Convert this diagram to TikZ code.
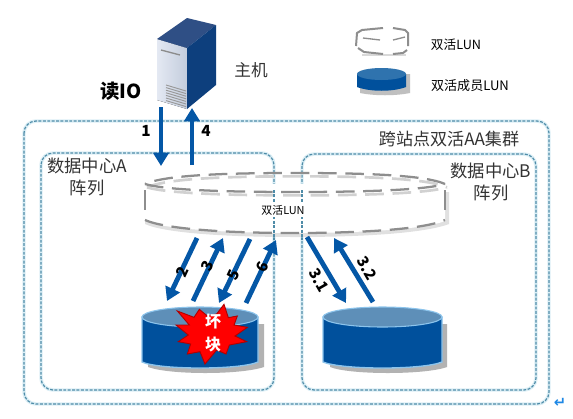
\documentclass[tikz,border=0pt]{standalone}
\usepackage{fontspec}
\setmainfont{Noto Sans CJK SC}
\newfontfamily\arrowfont{DejaVu Sans}
\usetikzlibrary{arrows.meta}
\definecolor{lunblue}{HTML}{00509C}
\definecolor{luntop}{HTML}{5E8FB8}
\definecolor{rimblue}{HTML}{8CC4EC}
\definecolor{flowblue}{HTML}{0457A6}
\definecolor{zone}{HTML}{4F8CA8}
\definecolor{zoneglow}{HTML}{DCEFF6}
\definecolor{dashgray}{HTML}{8E8E8E}
\definecolor{txt}{HTML}{333333}
\definecolor{srvfrontl}{HTML}{E4E9F3}
\definecolor{srvfrontr}{HTML}{C3CCDC}
\definecolor{srvtop}{HTML}{2F4F85}
\definecolor{srvside}{HTML}{0D3F7D}
\definecolor{legtop}{HTML}{2F73AE}
\definecolor{retblue}{HTML}{1E88E5}
\tikzset{
  zonebox/.style={draw=zone,line width=.9pt,dash pattern=on 2.2pt off 1.1pt,rounded corners=9pt},
  zoneunder/.style={draw=zoneglow,line width=2.6pt,rounded corners=9pt},
  flow/.style={draw=flowblue,line width=3.6pt,-{Triangle[length=10pt,width=11.5pt]}},
  lbl/.style={text=txt,align=center,inner sep=0pt},
  num/.style={text=black,font=\bfseries\fontsize{11.5pt}{13pt}\selectfont,inner sep=0pt},
  dashrim/.style={draw=dashgray,line width=1.7pt,dash pattern=on 14pt off 6.5pt},
  dashshadow/.style={draw=black!18,line width=2pt,dash pattern=on 14pt off 6.5pt},
}
\begin{document}
\begin{tikzpicture}[x=.75pt,y=-.75pt]
\useasboundingbox[fill=white] (0,0) rectangle (573,418);

% zones
\draw[zoneunder] (24,121) rectangle (549,404);
\draw[zoneunder] (41,153) rectangle (274,390);
\draw[zoneunder] (302,154) rectangle (536,390);
\draw[zonebox] (24,121) rectangle (549,404);
\draw[zonebox] (41,153) rectangle (274,390);
\draw[zonebox] (302,154) rectangle (536,390);

% server
\fill[left color=srvfrontl,right color=srvfrontr] (157,39) -- (187,48) -- (187,109) -- (157,100) -- cycle;
\fill[srvtop] (157,39) -- (187,48) -- (216,25) -- (187,18) -- cycle;
\fill[srvside] (187,48) -- (216,25) -- (216,85) -- (187,109) -- cycle;
\draw[black!45,line width=1pt] (161,50) -- (180,55);
\foreach \k in {0,...,6}{\draw[black!40,line width=.7pt] (166,{85+\k*2.6}) -- (186,{91+\k*2.6});}

% big dual-active LUN
\fill[black!12] (145,192) -- (145,224) .. controls (165,233) and (225,237) .. (295,237) .. controls (365,237) and (425,233) .. (449,224) -- (449,192) -- cycle;
\fill[white] (145,184) -- (145,221) .. controls (165,229) and (225,233) .. (295,233) .. controls (365,233) and (425,229) .. (445,221) -- (445,184) -- cycle;
\begin{scope}[yshift=-2.5pt,xshift=1.5pt]
\draw[dashshadow] (145,184) .. controls (165,175) and (225,173) .. (295,173) .. controls (365,173) and (425,175) .. (445,184);
\draw[dashshadow] (145,184) .. controls (165,190) and (225,192) .. (295,192) .. controls (365,192) and (425,190) .. (445,184);
\end{scope}
\draw[dashrim] (445,184) .. controls (425,175) and (365,173) .. (295,173) .. controls (225,173) and (165,175) .. (145,184);
\draw[dashrim] (145,184) .. controls (165,190) and (225,192) .. (295,192) .. controls (365,192) and (425,190) .. (445,184);
\draw[dashgray,line width=1.7pt] (145,190) -- (145,210);
\draw[dashgray,line width=1.7pt] (445,190) -- (445,210);
\draw[dashrim] (145,220) .. controls (165,229) and (225,233) .. (295,233) .. controls (365,233) and (425,229) .. (445,220);
\draw[zone,line width=.9pt,dash pattern=on 2.2pt off 1.1pt] (274,190) -- (274,240);
\draw[zone,line width=.9pt,dash pattern=on 2.2pt off 1.1pt] (302,190) -- (302,240);
\node[fill=white,inner sep=1.5pt,text=black,font=\fontsize{8.2pt}{10pt}\selectfont] (biglun) at (283,210) {双活LUN};

% member cylinders
\fill[black!30] (148,324) -- (264,324) -- (264,367) .. controls (240,375) and (170,375) .. (148,367) -- cycle;
\draw[rimblue,line width=1pt,fill=lunblue] (142,317) -- (142,362) .. controls (160,370) and (240,370) .. (258,362) -- (258,317) -- cycle;
\draw[rimblue,line width=.8pt,fill=luntop] (200,317) ellipse [x radius=58,y radius=10];
\fill[black!30] (330,324) -- (447,324) -- (447,367) .. controls (425,375) and (350,375) .. (330,367) -- cycle;
\draw[rimblue,line width=1pt,fill=lunblue] (323,317) -- (323,362) .. controls (342,370) and (423,370) .. (442,362) -- (442,317) -- cycle;
\draw[rimblue,line width=.8pt,fill=luntop] (382.5,317) ellipse [x radius=59.5,y radius=10];

% burst
\begin{scope}[shift={(100,210)},x=.25pt,y=-.25pt]
\fill[red,draw=red!70!black,line width=.7pt]
 (372,283) -- (385,323) -- (412,318) -- (402,345) -- (442,352) -- (405,378) -- (440,395) -- (388,405) -- (378,432) -- (350,420) -- (315,462) -- (300,425) -- (262,432) -- (272,402) -- (235,395) -- (265,375) -- (228,345) -- (268,345) -- (232,303) -- (282,322) -- (298,298) -- (322,318) -- (350,312) -- cycle;
\end{scope}
\node[text=white,font=\bfseries\fontsize{12pt}{14pt}\selectfont,inner sep=0pt] (bad1) at (213,322) {坏};
\node[text=white,font=\bfseries\fontsize{12pt}{14pt}\selectfont,inner sep=0pt] (bad2) at (213,345) {块};

% legend
\draw[black!15,line width=2pt] (362,55) -- (406,55);
\draw[dashgray,line width=1.5pt] (383,28) -- (362,30) -- (357,33) -- (356,46);
\draw[dashgray,line width=1.5pt] (393,28) -- (405,30) -- (408,33) -- (408,46);
\draw[dashgray,line width=1.5pt] (358,48) -- (364,52) -- (383,54);
\draw[dashgray,line width=1.5pt] (393,54) -- (403,53) -- (407,50);
\draw[dashgray,line width=1pt] (363,38) -- (380,40);
\draw[dashgray,line width=1pt] (393,40) -- (405,37);
\fill[black!25] (360,74) -- (410,74) -- (410,93) .. controls (395,96) and (375,96) .. (360,93) -- cycle;
\fill[lunblue] (357,74) -- (357,87) .. controls (370,92) and (393,92) .. (406,87) -- (406,74) -- cycle;
\fill[legtop] (381.5,74) ellipse [x radius=24.5,y radius=6];
\node[lbl,text=black,font=\fontsize{9.5pt}{11pt}\selectfont] (lg1) at (456,45) {双活LUN};
\node[lbl,text=black,font=\fontsize{9.8pt}{11pt}\selectfont] (lg2) at (470,86) {双活成员LUN};

% labels
\node[lbl,font=\fontsize{12.5pt}{14pt}\selectfont] (hostl) at (251,70) {主机};
\node[text=black,font=\bfseries\fontsize{14.5pt}{16pt}\selectfont,inner sep=0pt] (readio) at (121,91) {读IO};
\node[lbl,font=\fontsize{12.8pt}{14pt}\selectfont] (title) at (449,139) {跨站点双活AA集群};
\node[lbl,font=\fontsize{13pt}{16pt}\selectfont] (dca) at (87,177) {数据中心A\\阵列};
\node[lbl,font=\fontsize{13pt}{16pt}\selectfont] (dcb) at (491,182) {数据中心B\\阵列};

% flows
\coordinate (a1s) at (161,107); \coordinate (a1e) at (161,166);
\coordinate (a4s) at (192,165); \coordinate (a4e) at (192,108);
\coordinate (a2s) at (197,238); \coordinate (a2e) at (167,301);
\coordinate (a3s) at (193,301); \coordinate (a3e) at (223,238);
\coordinate (a5s) at (250,239); \coordinate (a5e) at (219,303);
\coordinate (a6s) at (246,303); \coordinate (a6e) at (276,240);
\coordinate (a7s) at (307,237); \coordinate (a7e) at (346,303);
\coordinate (a8s) at (373,302); \coordinate (a8e) at (334,238);
\foreach \p in {1,4,2,3,5,6,7,8}{\draw[flow] (a\p s) -- (a\p e);}
\node[num] (n1) at (146,131) {1};
\node[num] (n4) at (206,131) {4};
\node[num,rotate=65] (n2) at (182,272) {2};
\node[num,rotate=65] (n3) at (207,266) {3};
\node[num,rotate=65] (n5) at (234,275) {5};
\node[num,rotate=65] (n6) at (262,267) {6};
\node[num,rotate=-60] (n31) at (319,280) {3.1};
\node[num,rotate=-60] (n32) at (367,268) {3.2};

\node[inner sep=0pt,text=retblue,font=\arrowfont\bfseries\fontsize{11pt}{12pt}\selectfont] (ret) at (560,403) {↵};
\end{tikzpicture}
\end{document}
